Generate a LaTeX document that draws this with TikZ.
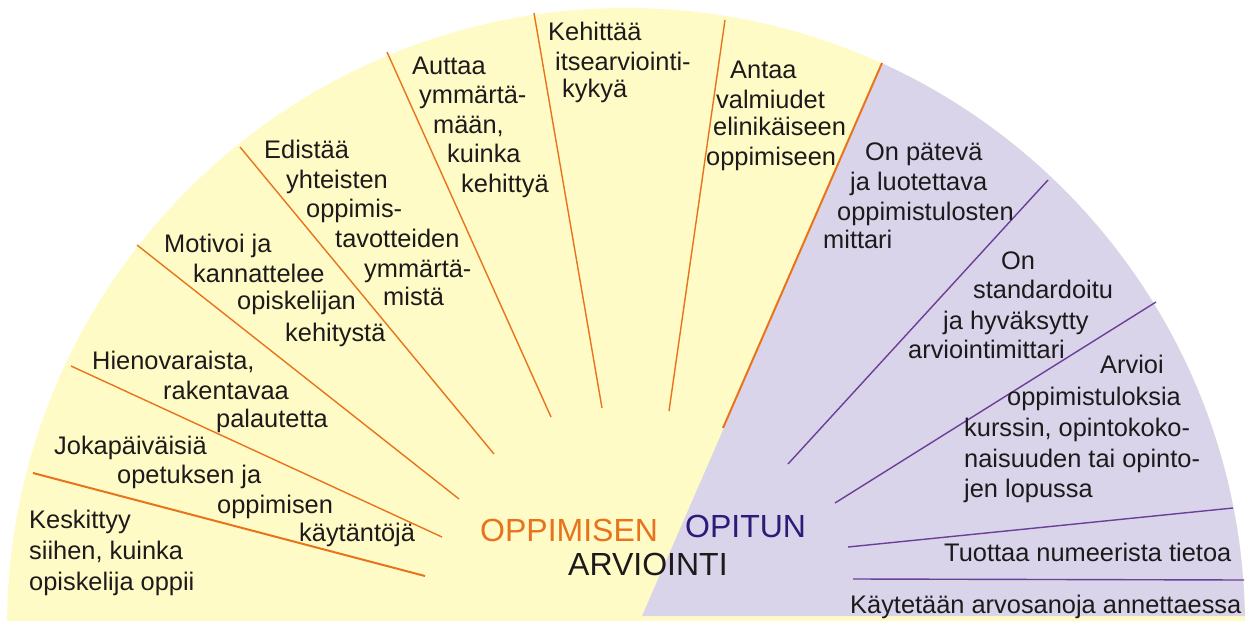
\documentclass[tikz,border=0pt]{standalone}
\usepackage{fontspec}
\setmainfont{Liberation Sans}
\definecolor{yellowfill}{HTML}{FFFBC6}
\definecolor{purplefill}{HTML}{D9D4EA}
\definecolor{orangeline}{HTML}{E8731C}
\definecolor{purpleline}{HTML}{6B3F98}
\definecolor{textc}{HTML}{1E1A1B}
\definecolor{navy}{HTML}{2E1A78}
\tikzset{
  txt/.style={anchor=base west, inner sep=0pt, font=\fontsize{25.4}{30}\selectfont, text=textc},
  big/.style={anchor=base west, inner sep=0pt, font=\fontsize{32}{36}\selectfont},
  oline/.style={draw=orangeline, line width=1.4pt},
  othick/.style={draw=orangeline, line width=2pt},
  pline/.style={draw=purpleline, line width=1.4pt}
}
\newcommand\tl[4]{\node[txt] (#1) at (#2,#3) {#4};}
\begin{document}
\begin{tikzpicture}[x=1pt,y=-1pt]
\useasboundingbox (0,0) rectangle (1254,621);
% yellow disc
\begin{scope}
  \clip (0,0) rectangle (1254,621);
  \fill[yellowfill] (626,627) circle (619pt);
\end{scope}
% purple sector
\begin{scope}
  \clip (910.5,0) -- (642,616) -- (1254,616) -- (1254,0) -- cycle;
  \fill[purplefill] (626,627) circle (619pt);
\end{scope}
% orange lines
\draw[othick] (33,473) -- (425,576);
\draw[oline] (71,366) -- (442,537);
\draw[oline] (137,245) -- (459,499);
\draw[oline] (240,147) -- (494,454);
\draw[oline] (387,52) -- (551,417);
\draw[oline] (534,13) -- (602,408);
\draw[oline] (725,20) -- (669,411);
\draw[othick] (882,63) -- (723,428);
% purple lines
\draw[pline] (1048,180) -- (788,464);
\draw[pline] (1156,302) -- (835,503);
\draw[pline] (1233,508) -- (848,547);
\draw[pline] (853,579) -- (1244,580);
% texts
\tl{k1}{29}{528}{Keskittyy}
\tl{k2}{29}{559}{siihen, kuinka}
\tl{k3}{29}{590}{opiskelija oppii}
\tl{j1}{54}{454}{Jokapäiväisiä}
\tl{j2}{117}{483}{opetuksen ja}
\tl{j3}{217}{513}{oppimisen}
\tl{j4}{299}{541}{käytäntöjä}
\tl{h1}{92}{369}{Hienovaraista,}
\tl{h2}{163}{399}{rakentavaa}
\tl{h3}{216}{427}{palautetta}
\tl{m1}{164}{252}{Motivoi ja}
\tl{m2}{193}{282}{kannattelee}
\tl{m3}{237}{309}{opiskelijan}
\tl{m4}{285}{341}{kehitystä}
\tl{e1}{264}{158}{Edistää}
\tl{e2}{286}{188}{yhteisten}
\tl{e3}{306}{217}{oppimis-}
\tl{e4}{335}{247}{tavotteiden}
\tl{e5}{364}{277}{ymmärtä-}
\tl{e6}{383}{305}{mistä}
\tl{a1}{412}{74}{Auttaa}
\tl{a2}{419}{103}{ymmärtä-}
\tl{a3}{433}{133}{mään,}
\tl{a4}{447}{162}{kuinka}
\tl{a5}{461}{192}{kehittyä}
\tl{s1}{548}{40}{Kehittää}
\tl{s2}{555}{70}{itsearviointi-}
\tl{s3}{562}{97}{kykyä}
\tl{v1}{730}{78}{Antaa}
\tl{v2}{716}{108}{valmiudet}
\tl{v3}{713}{135}{elinikäiseen}
\tl{v4}{706}{165}{oppimiseen}
\tl{p1}{865}{160}{On pätevä}
\tl{p2}{850}{190}{ja luotettava}
\tl{p3}{837}{220}{oppimistulosten}
\tl{p4}{823}{248}{mittari}
\tl{q1}{1001}{269}{On}
\tl{q2}{973}{298}{standardoitu}
\tl{q3}{943}{329}{ja hyväksytty}
\tl{q4}{908}{358}{arviointimittari}
\tl{r1}{1100}{373}{Arvioi}
\tl{r2}{1007}{405}{oppimistuloksia}
\tl{r3}{964}{436}{kurssin, opintokoko-}
\tl{r4}{964}{467}{naisuuden tai opinto-}
\tl{r5}{964}{497}{jen lopussa}
\tl{t1}{944}{561}{Tuottaa numeerista tietoa}
\tl{u1}{850}{613}{Käytetään arvosanoja annettaessa}
% centre labels
\node[big, text=orangeline] (oppimisen) at (480,541) {OPPIMISEN};
\node[big, text=navy] (opitun) at (685,537) {OPITUN};
\node[big, text=textc] (arviointi) at (568,575) {ARVIOINTI};
\end{tikzpicture}
\end{document}
